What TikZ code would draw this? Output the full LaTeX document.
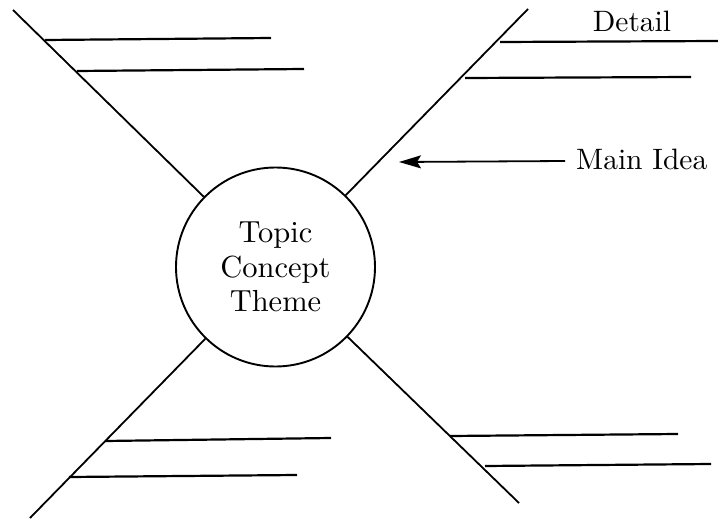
\documentclass[tikz,border=0pt]{standalone}
\usepackage{fontspec}
\setmainfont{lmroman10-regular.otf}
\usetikzlibrary{arrows.meta}
\begin{document}
\begin{tikzpicture}[x=1pt,y=-1pt,
  spoke/.style={line width=1.8pt},
  detailline/.style={line width=2.2pt},
  label/.style={font=\fontsize{29.5}{34}\selectfont,inner sep=0pt},
  hub/.style={circle,draw,line width=1.9pt,minimum size=199pt,inner sep=0pt,
    align=center,font=\fontsize{30.5}{34.5}\selectfont}]
\useasboundingbox (0,0) rectangle (718,519);

% central topic
\node[hub] (topic) at (275.5,267) {Topic\\Concept\\Theme};

% outer ends of the four spokes
\coordinate (ul) at (13,10);
\coordinate (ur) at (528,9);
\coordinate (ll) at (30,518);
\coordinate (lr) at (519,503);

\draw[spoke] (ul) -- (topic);
\draw[spoke] (ur) -- (topic);
\draw[spoke] (ll) -- (topic);
\draw[spoke] (lr) -- (topic);

% detail lines branching off each spoke
\coordinate (ula) at (45,40);   \coordinate (ulaE) at (271,38);
\coordinate (ulb) at (77,71);   \coordinate (ulbE) at (304,69);
\coordinate (ura) at (500,42);  \coordinate (uraE) at (718,41);
\coordinate (urb) at (465,78);  \coordinate (urbE) at (691,77);
\coordinate (lla) at (105,441); \coordinate (llaE) at (331,438);
\coordinate (llb) at (69,477);  \coordinate (llbE) at (297,475);
\coordinate (lra) at (450,436); \coordinate (lraE) at (678,434);
\coordinate (lrb) at (485,466); \coordinate (lrbE) at (711,464);

\draw[detailline] (ula) -- (ulaE);
\draw[detailline] (ulb) -- (ulbE);
\draw[detailline] (ura) -- (uraE);
\draw[detailline] (urb) -- (urbE);
\draw[detailline] (lla) -- (llaE);
\draw[detailline] (llb) -- (llbE);
\draw[detailline] (lra) -- (lraE);
\draw[detailline] (lrb) -- (lrbE);

% labels
\node[label,anchor=base] (detail) at (632,32) {Detail};
\node[label,anchor=base west] (idea) at (576,169) {Main Idea};

% pointer to the main idea spoke
\coordinate (tail) at (565,161);
\coordinate (tip) at (399,162);
\draw[line width=1.8pt,-{Stealth[length=22pt,width=13pt,inset=4pt]}] (tail) -- (tip);
\end{tikzpicture}
\end{document}
